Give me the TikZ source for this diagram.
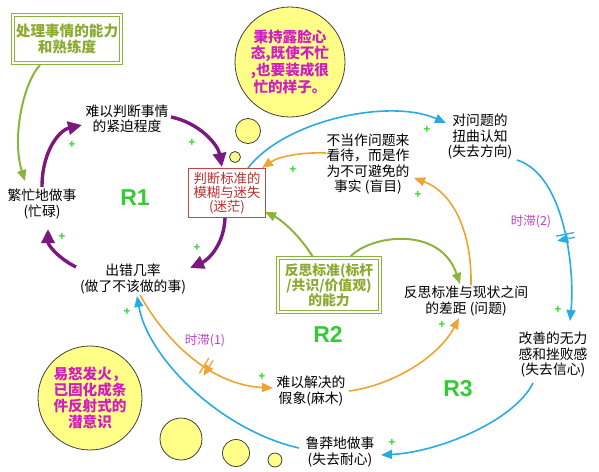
\documentclass[tikz,border=0pt]{standalone}
\usepackage{fontspec}
\setmainfont{Noto Sans CJK SC}
\newfontfamily\latinsans{Liberation Sans}
\usetikzlibrary{arrows.meta,calc}
\definecolor{cpurple}{HTML}{7A1A7E}
\definecolor{cblue}{HTML}{2AAAE2}
\definecolor{corange}{HTML}{F0A430}
\definecolor{colive}{HTML}{8DB43A}
\definecolor{cboxtxt}{HTML}{8AAA30}
\definecolor{cred}{HTML}{C04848}
\definecolor{credtxt}{HTML}{B83030}
\definecolor{cmag}{HTML}{D01EC0}
\definecolor{cdelay}{HTML}{C040C8}
\definecolor{cplus}{HTML}{33DD33}
\definecolor{crlab}{HTML}{33CC33}
\definecolor{cyel}{HTML}{FFFF88}
\begin{document}
\begin{tikzpicture}[x=1pt,y=-1pt,
  txt/.style={align=center,inner sep=1pt,font=\fontsize{13.8}{15.5}\selectfont},
  gbox/.style={draw=colive,double=white,double distance=1.6pt,line width=0.8pt,align=center,
    text=cboxtxt,font=\fontsize{14.6}{16.5}\selectfont\bfseries,inner sep=0pt},
  rbox/.style={draw=cred,line width=0.9pt,align=center,text=credtxt,
    font=\fontsize{13.4}{14.2}\selectfont,inner sep=0pt,minimum width=77pt,minimum height=49pt},
  bubble/.style={circle,draw=black!75,line width=0.8pt,fill=cyel,inner sep=0pt},
  bubtxt/.style={bubble,align=center,text=cmag,font=\fontsize{14.6}{16}\selectfont\bfseries},
  plusmark/.style={text=cplus,font=\fontsize{11}{11}\selectfont\bfseries,inner sep=0pt},
  rlab/.style={text=crlab,font=\latinsans\fontsize{23}{23}\selectfont\bfseries,inner sep=0pt},
  dlab/.style={text=cdelay,font=\fontsize{12.5}{12.5}\selectfont,inner sep=0pt},
  purp/.style={draw=cpurple,line width=3.4pt,-{Triangle[length=14pt,width=13pt]}},
  blu/.style={draw=cblue,line width=1.6pt,-{Triangle[length=11pt,width=9pt]}},
  ora/.style={draw=corange,line width=1.6pt,-{Triangle[length=11pt,width=9pt]}},
  oli/.style={draw=colive,line width=2pt,-{Triangle[length=11pt,width=9pt]}},
  delaymark/.pic={\draw[line width=1.3pt,pic actions] (-2.4,-9)--(-2.4,9) (2.4,-9)--(2.4,9);}
]
\useasboundingbox (0,0) rectangle (599,471);

% bubbles
\node[bubtxt,minimum size=110pt] (sun) at (290,62) {秉持露脸心\\态,既使不忙\\,也要装成很\\忙的样子。};
\node[bubble,minimum size=25pt] (c2) at (248,131) {};
\node[bubble,minimum size=11pt] (c3) at (235,157) {};
\node[bubtxt,minimum size=104pt] (anger) at (90,398) {易怒发火，\\已固化成条\\件反射式的\\潜意识};
\node[bubble,minimum size=42pt] (c4) at (181,439) {};
\node[bubble,minimum size=27pt] (c5) at (236,453) {};
\node[bubble,minimum size=14pt] (c6) at (275,460) {};

% boxes
\node[gbox,minimum width=108pt,minimum height=48pt] (box1) at (67,39) {处理事情的能力\\和熟练度};
\node[gbox,minimum width=102pt,minimum height=54pt,font=\fontsize{13.8}{14.8}\selectfont\bfseries] (refl) at (329,285) {反思标准(标杆\\/共识/价值观)\\的能力};
\node[rbox] (std) at (227,193) {判断标准的\\模糊与迷失\\(迷茫)};

% variables
\node[txt] (urg) at (127,119) {难以判断事情\\的紧迫程度};
\node[txt] (busy) at (42,204) {繁忙地做事\\(忙碌)};
\node[txt] (err) at (133,279) {出错几率\\(做了不该做的事)};
\node[txt] (blind) at (368,164) {不当作问题来\\看待，而是作\\为不可避免的\\事实 (盲目)};
\node[txt] (dist) at (480,137) {对问题的\\扭曲认知\\(失去方向)};
\node[txt] (gap) at (466,301) {反思标准与现状之间\\的差距 (问题)};
\node[txt] (weak) at (553,355) {改善的无力\\感和挫败感\\(失去信心)};
\node[txt] (rash) at (340,452) {鲁莽地做事\\(失去耐心)};
\node[txt] (numb) at (311,391) {难以解决的\\假象(麻木)};

% loop labels
\node[rlab] (R1) at (135,198) {R1};
\node[rlab] (R2) at (328,334) {R2};
\node[rlab] (R3) at (458,389) {R3};
\node[dlab] (d1) at (205,341) {时滞(1)};
\node[dlab] (d2) at (531,222) {时滞(2)};

% R1 loop (purple)
\draw[purp] ($(busy)+(0,-17)$) .. controls (42,150) and (60,130) .. ($(urg)+(-45,6)$);
\draw[purp] ($(urg)+(44,-2)$) .. controls (200,123) and (218,145) .. ($(std)+(-5,-26)$);
\draw[purp] ($(std)+(-2,25)$) .. controls (224,245) and (208,260) .. ($(err)+(57,-11)$);
\draw[purp] ($(err)+(-57,-12)$) .. controls (58,258) and (48,245) .. ($(busy)+(6,25)$);

% blue
\draw[blu] ($(std)+(21,-25)$) .. controls (285,120) and (390,98) .. ($(dist)+(-34,-14)$);
\draw[blu] ($(dist)+(37,23)$) .. controls (565,175) and (575,270) .. pic[pos=0.55,sloped,draw=cblue]{delaymark} ($(weak)+(17,-34)$);
\draw[blu] ($(weak)+(-20,28)$) .. controls (515,420) and (440,452) .. ($(rash)+(41,3)$);
\draw[blu] ($(rash)+(-41,-4)$) .. controls (220,430) and (148,358) .. ($(err)+(4,17)$);

% orange
\draw[ora] ($(err)+(7,16)$) .. controls (165,340) and (210,385) .. pic[pos=0.6,sloped,draw=corange]{delaymark} ($(numb)+(-38,-3)$);
\draw[ora] ($(numb)+(38,0)$) .. controls (395,385) and (440,355) .. ($(gap)+(-7,17)$);
\draw[ora] ($(gap)+(5,-16)$) .. controls (472,230) and (452,192) .. ($(blind)+(46,14)$);
\draw[ora] ($(blind)+(-42,-11)$) .. controls (300,152) and (278,157) .. ($(std)+(35,-25)$);

% olive
\draw[oli] ($(box1)+(-27,26)$) .. controls (22,85) and (12,140) .. ($(busy)+(-17,-23)$);
\draw[oli] ($(refl)+(-16,-28)$) .. controls (300,236) and (282,220) .. ($(std)+(38,19)$);
\draw[oli] ($(refl)+(21,-28)$) .. controls (370,235) and (440,225) .. ($(gap)+(-6,-17)$);

% plus signs
\node[plusmark] (p1) at (72,145) {+};
\node[plusmark] (p2) at (192,143) {+};
\node[plusmark] (p3) at (293,170) {+};
\node[plusmark] (p4) at (62,237) {+};
\node[plusmark] (p5) at (197,248) {+};
\node[plusmark] (p6) at (127,312) {+};
\node[plusmark] (p7) at (262,377) {+};
\node[plusmark] (p8) at (427,130) {+};
\node[plusmark] (p9) at (418,195) {+};
\node[plusmark] (p10) at (442,325) {+};
\node[plusmark] (p11) at (558,310) {+};
\node[plusmark] (p12) at (392,443) {+};
\end{tikzpicture}
\end{document}
